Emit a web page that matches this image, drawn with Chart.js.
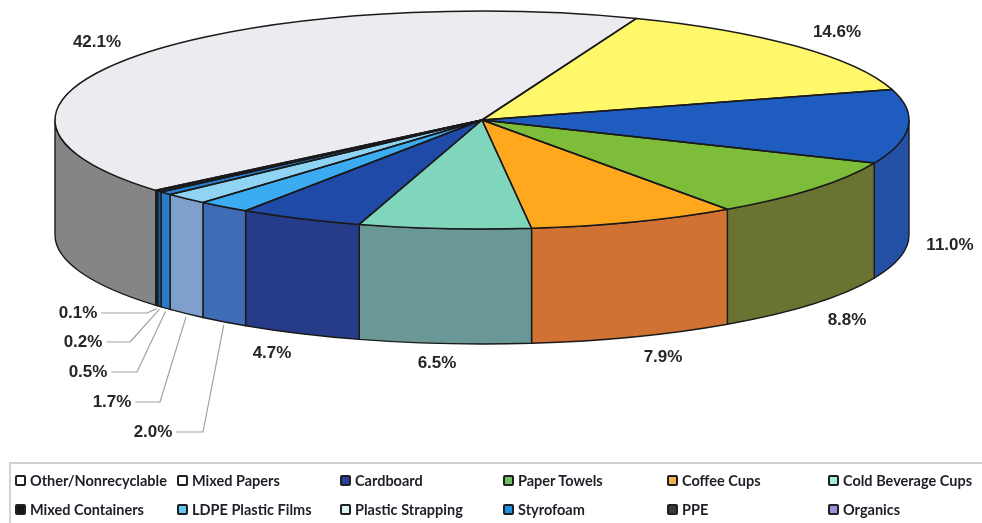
<!DOCTYPE html>
<html lang="en">
<head>
<meta charset="UTF-8">
<title>Waste composition</title>
<script src="https://cdn.jsdelivr.net/npm/chart.js"></script>
<style>
  body { margin: 0; background: #fff; }
  .wrap { position: relative; width: 982px; height: 523px; overflow: hidden; }
  #pie { position: absolute; left: 0; top: 0; }
  .legend {
    position: absolute; left: 9px; top: 462px; width: 990px; height: 80px;
    border: 2px solid #d2d2d2; box-sizing: border-box;
    display: grid; grid-template-columns: 162px 163px 163px 164px 161px auto;
    grid-auto-rows: 29px; padding: 2px 0 0 4px;
    font: bold 14.5px Lato, sans-serif; color: #1e1e28;
  }
  .legend span { display: flex; align-items: center; white-space: nowrap; }
  .legend i {
    display: inline-block; width: 7px; height: 7px; margin-right: 4px;
    border: 2px solid #202020; border-radius: 2px;
  }
</style>
</head>
<body>
<div class="wrap">
  <canvas id="pie" width="982" height="523"></canvas>
  <div class="legend" id="legend"></div>
</div>
<script>
const categories = ['Other/Nonrecyclable', 'Mixed Papers', 'Cardboard', 'Paper Towels', 'Coffee Cups',
  'Cold Beverage Cups', 'Mixed Containers', 'LDPE Plastic Films', 'Plastic Strapping', 'Styrofoam', 'PPE', 'Organics'];
const shares = [42.1, 14.6, 11.0, 8.8, 7.9, 6.5, 4.7, 2.0, 1.7, 0.5, 0.2, 0.1];

// top face / outer wall colours per slice
const topColors = ['#ebebf0', '#fff86a', '#1f5cc0', '#7dbd3a', '#ffa81e', '#7fd6bd',
  '#1f4aa8', '#3cacf2', '#8fd3f5', '#2b7fd0', '#215a90', '#1c2b3a'];
const wallColors = ['#858585', '#c9c24a', '#2450a6', '#6b7332', '#d07234', '#6a9896',
  '#263c88', '#3f6db5', '#7fa0cc', '#2a7cc4', '#1e5a8c', '#1c2b3a'];
// legend swatches
const swatchColors = ['#ffffff', '#ffffff', '#2b3f9e', '#6cc061', '#f2b44a', '#a6ece0',
  '#151515', '#66c6f2', '#d8f6f6', '#1f8fe0', '#3a3a3a', '#9a92d6'];

// where each percentage label sits (centre x, middle y) and the knee of its leader line
const labelSpots = [[97, 42], [837, 32], [950, 245], [847, 320], [663, 357], [437, 363],
  [272, 353], [153, 432], [112, 402], [88, 372], [83, 342], [78, 313]];
const leaderKnee = [null, null, null, null, null, null, null, 203, 160, 137, 130, 147];

const GEO = { cx: 482, cy: 120, rx: 427, ry: 109, depth: 115 };

function ellPt(a, dy) {
  return [GEO.cx + GEO.rx * Math.cos(a), GEO.cy + GEO.ry * Math.sin(a) + (dy || 0)];
}

// parts of [s, e] that face the viewer (lower half of the ellipse)
function frontSpans(s, e) {
  const out = [];
  for (let k = -1; k <= 2; k++) {
    const lo = Math.max(s, 2 * Math.PI * k), hi = Math.min(e, 2 * Math.PI * k + Math.PI);
    if (hi > lo) out.push([lo, hi]);
  }
  return out;
}

function wallPath(ctx, lo, hi) {
  ctx.beginPath();
  ctx.ellipse(GEO.cx, GEO.cy, GEO.rx, GEO.ry, 0, lo, hi);
  ctx.ellipse(GEO.cx, GEO.cy + GEO.depth, GEO.rx, GEO.ry, 0, hi, lo, true);
  ctx.closePath();
}

const tiltPlugin = {
  id: 'tilt',
  beforeDatasetsDraw(chart) {
    const ctx = chart.ctx;
    const arcs = chart.getDatasetMeta(0).data;
    // outer walls
    ctx.save();
    ctx.lineJoin = 'round';
    arcs.forEach((a, i) => {
      frontSpans(a.startAngle, a.endAngle).forEach(([lo, hi]) => {
        wallPath(ctx, lo, hi);
        ctx.fillStyle = wallColors[i];
        ctx.fill();
        ctx.strokeStyle = '#1a1a1a';
        ctx.lineWidth = 1.4;
        ctx.stroke();
      });
    });
    ctx.restore();
    // squash the round pie onto the top ellipse
    const a0 = arcs[0];
    const R = a0.outerRadius;
    ctx.save();
    ctx.translate(GEO.cx, GEO.cy);
    ctx.scale(GEO.rx / R, GEO.ry / R);
    ctx.translate(-a0.x, -a0.y);
  },
  afterDatasetsDraw(chart) {
    const ctx = chart.ctx;
    ctx.restore();
    const arcs = chart.getDatasetMeta(0).data;
    ctx.save();
    ctx.strokeStyle = '#1a1a1a';
    ctx.lineWidth = 1.5;
    ctx.lineJoin = 'round';
    arcs.forEach(a => {
      ctx.beginPath();
      ctx.moveTo(GEO.cx, GEO.cy);
      ctx.ellipse(GEO.cx, GEO.cy, GEO.rx, GEO.ry, 0, a.startAngle, a.endAngle);
      ctx.closePath();
      ctx.stroke();
    });

    // percentage labels and leader lines
    ctx.font = 'bold 17px "Liberation Sans", Arial, sans-serif';
    ctx.textAlign = 'center';
    ctx.textBaseline = 'middle';
    arcs.forEach((a, i) => {
      const [x, y] = labelSpots[i];
      const txt = shares[i].toFixed(1) + '%';
      ctx.fillStyle = '#262626';
      ctx.fillText(txt, x, y);
      if (leaderKnee[i] !== null) {
        const w = ctx.measureText(txt).width;
        const mid = (a.startAngle + a.endAngle) / 2;
        const [ax, ay] = ellPt(mid, GEO.depth + 3);
        ctx.beginPath();
        ctx.moveTo(x + w / 2 + 4, y);
        ctx.lineTo(leaderKnee[i], y);
        ctx.lineTo(ax, ay);
        ctx.strokeStyle = '#a2a2a2';
        ctx.lineWidth = 1.2;
        ctx.stroke();
      }
    });
    ctx.restore();
  }
};

const chart = new Chart(document.getElementById('pie'), {
  type: 'pie',
  data: {
    labels: categories,
    datasets: [{
      data: shares,
      backgroundColor: topColors,
      borderWidth: 0,
      clip: false
    }]
  },
  options: {
    responsive: false,
    animation: false,
    events: [],
    rotation: 229.8,
    layout: { padding: 0 },
    plugins: { legend: { display: false }, tooltip: { enabled: false } }
  },
  plugins: [tiltPlugin]
});

// legend in a fixed grid, two rows of six
const legendEl = document.getElementById('legend');
categories.forEach((name, i) => {
  const item = document.createElement('span');
  const box = document.createElement('i');
  box.style.background = swatchColors[i];
  item.appendChild(box);
  item.appendChild(document.createTextNode(name));
  legendEl.appendChild(item);
});
</script>
</body>
</html>
